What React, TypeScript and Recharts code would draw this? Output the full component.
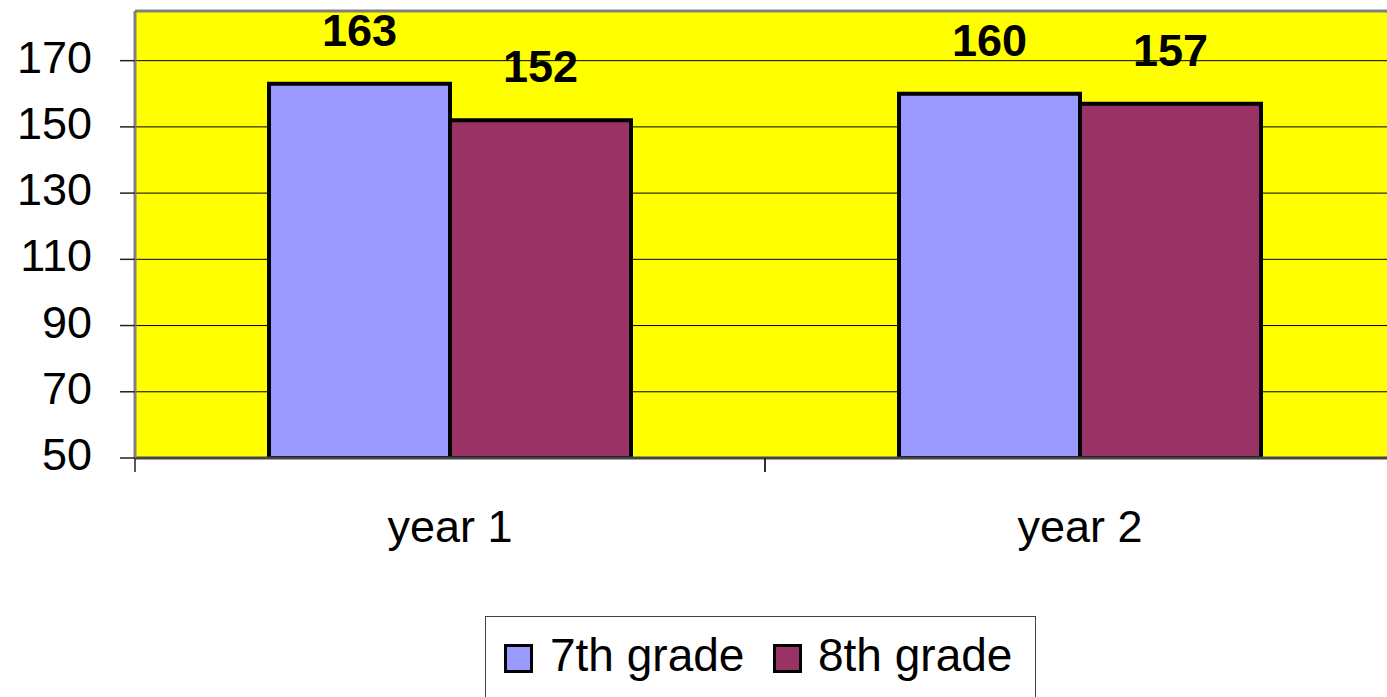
import React from 'react';
import { BarChart, Bar, XAxis, YAxis, CartesianGrid, Legend, LabelList, ReferenceLine } from 'recharts';

const categories = ['year 1', 'year 2'];
const grade7 = [163, 160];
const grade8 = [152, 157];
const yTicks = [50, 70, 90, 110, 130, 150, 170];
const seriesNames = ['7th grade', '8th grade'];
const seriesColors = ['#9999FF', '#993366'];

const data = categories.map((c, i) => ({ name: c, g7: grade7[i], g8: grade8[i] }));

const FONT = '"Liberation Sans", Arial, Helvetica, sans-serif';
const CHART_W = 1400;
const CHART_H = 760;
const HALF_BAND = 315;

const YTick = (props: any) => {
  const { x, y, payload } = props;
  return (
    <text x={x} y={y + 12} textAnchor="end" fontFamily={FONT} fontSize={45} fill="#000">
      {payload.value}
    </text>
  );
};

const XTick = (props: any) => {
  const { x, y, payload } = props;
  return (
    <g>
      <line x1={x - HALF_BAND} y1={y} x2={x - HALF_BAND} y2={y + 14} stroke="#222" strokeWidth={1.5} />
      <line x1={x + HALF_BAND} y1={y} x2={x + HALF_BAND} y2={y + 14} stroke="#222" strokeWidth={1.5} />
      <text x={x} y={y + 84} textAnchor="middle" fontFamily={FONT} fontSize={45} fill="#000">
        {payload.value}
      </text>
    </g>
  );
};

const LegendContent = () => {
  const squareLefts = [18, 287];
  const textLefts = [64, 332];
  return (
    <div
      style={{
        position: 'relative',
        width: 551,
        height: 100,
        boxSizing: 'border-box',
        border: '1.5px solid #444',
        background: '#fff',
        fontFamily: FONT,
      }}
    >
      {seriesNames.map((n, i) => (
        <React.Fragment key={n}>
          <div
            style={{
              position: 'absolute',
              left: squareLefts[i],
              top: 27,
              width: 29,
              height: 29,
              boxSizing: 'border-box',
              border: '3.5px solid #000',
              background: seriesColors[i],
            }}
          />
          <div
            style={{
              position: 'absolute',
              left: textLefts[i],
              top: 15,
              fontSize: 46,
              lineHeight: '46px',
              color: '#000',
              whiteSpace: 'nowrap',
            }}
          >
            {n}
          </div>
        </React.Fragment>
      ))}
    </div>
  );
};

export default function App() {
  return (
    <div style={{ position: 'fixed', left: 0, top: 0, width: 1387, height: 697, overflow: 'hidden', background: '#fff' }}>
      <BarChart
        width={CHART_W}
        height={CHART_H}
        data={data}
        margin={{ top: 11, right: 5, left: 0, bottom: 102 }}
        barCategoryGap={134}
        barGap={0}
      >
        <CartesianGrid vertical={false} stroke="#000" strokeWidth={1} fill="#FFFF00" fillOpacity={1} />
        <XAxis
          dataKey="name"
          height={100}
          tickLine={false}
          tickSize={0}
          tickMargin={0}
          axisLine={{ stroke: '#444', strokeWidth: 3 }}
          tick={<XTick />}
          interval={0}
        />
        <YAxis
          width={135}
          domain={[50, 185]}
          ticks={yTicks}
          allowDataOverflow
          tickSize={15}
          tickMargin={28}
          tickLine={{ stroke: '#222', strokeWidth: 1.5 }}
          axisLine={{ stroke: '#808080', strokeWidth: 3 }}
          tick={<YTick />}
        />
        <ReferenceLine y={185} stroke="#808080" strokeWidth={3} />
        <Legend
          verticalAlign="bottom"
          content={<LegendContent />}
          wrapperStyle={{ left: 485, top: 616, width: 551, height: 100 }}
        />
        <Bar dataKey="g7" name={seriesNames[0]} fill={seriesColors[0]} stroke="#000" strokeWidth={4} isAnimationActive={false}>
          <LabelList dataKey="g7" position="top" offset={38} fill="#000" fontFamily={FONT} fontSize={45} fontWeight="bold" />
        </Bar>
        <Bar dataKey="g8" name={seriesNames[1]} fill={seriesColors[1]} stroke="#000" strokeWidth={4} isAnimationActive={false}>
          <LabelList dataKey="g8" position="top" offset={38} fill="#000" fontFamily={FONT} fontSize={45} fontWeight="bold" />
        </Bar>
      </BarChart>
    </div>
  );
}
